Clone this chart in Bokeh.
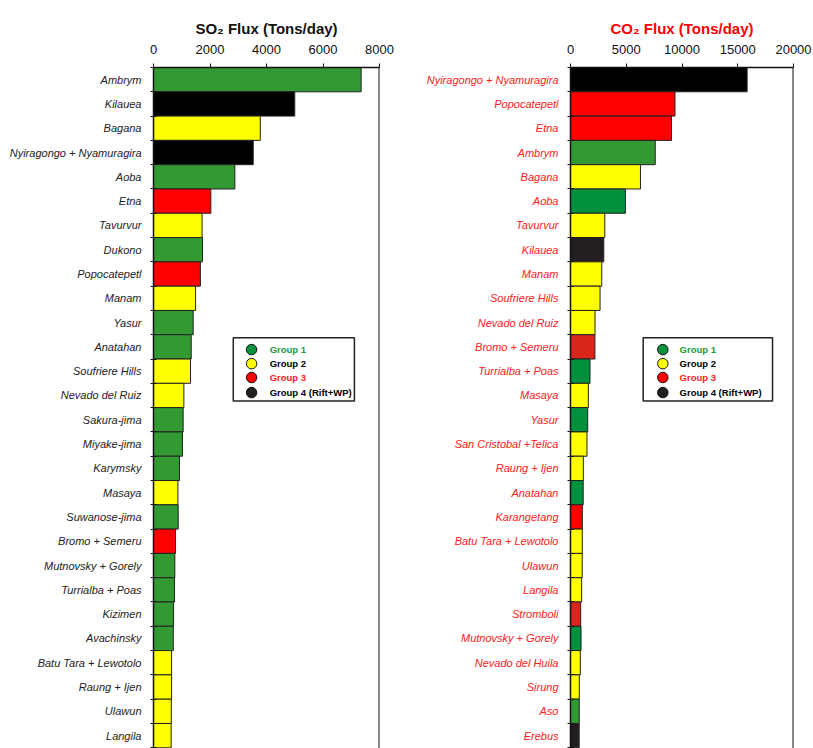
from bokeh.plotting import figure
from bokeh.layouts import row
from bokeh.models import Range1d, FixedTicker, Span, BoxAnnotation, ColumnDataSource
from bokeh.core.properties import value
from bokeh.embed import file_html
from bokeh.resources import INLINE

# ---------------- data ----------------
so2_names = ["Ambrym", "Kilauea", "Bagana", "Nyiragongo + Nyamuragira", "Aoba", "Etna",
             "Tavurvur", "Dukono", "Popocatepetl", "Manam", "Yasur", "Anatahan",
             "Soufriere Hills", "Nevado del Ruiz", "Sakura-jima", "Miyake-jima", "Karymsky",
             "Masaya", "Suwanose-jima", "Bromo + Semeru", "Mutnovsky + Gorely",
             "Turrialba + Poas", "Kizimen", "Avachinsky", "Batu Tara + Lewotolo",
             "Raung + Ijen", "Ulawun", "Langila"]
so2_vals = [7350, 5000, 3780, 3530, 2880, 2030, 1720, 1735, 1660, 1490, 1405, 1335,
            1310, 1075, 1050, 1025, 920, 865, 875, 780, 755, 745, 710, 700, 640, 640,
            630, 625]
so2_groups = ["1", "4", "2", "4", "1", "3", "2", "1", "3", "2", "1", "1", "2", "2", "1",
              "1", "1", "2", "1", "3", "1", "1", "1", "1", "2", "2", "2", "2"]

co2_names = ["Nyiragongo + Nyamuragira", "Popocatepetl", "Etna", "Ambrym", "Bagana", "Aoba",
             "Tavurvur", "Kilauea", "Manam", "Soufriere Hills", "Nevado del Ruiz",
             "Bromo + Semeru", "Turrialba + Poas", "Masaya", "Yasur", "San Cristobal +Telica",
             "Raung + Ijen", "Anatahan", "Karangetang", "Batu Tara + Lewotolo", "Ulawun",
             "Langila", "Stromboli", "Mutnovsky + Gorely", "Nevado del Huila", "Sirung",
             "Aso", "Erebus"]
co2_vals = [15840, 9370, 9060, 7600, 6275, 4925, 3075, 2985, 2805, 2650, 2200, 2190,
            1750, 1600, 1545, 1480, 1150, 1140, 1060, 1055, 1050, 1000, 915, 945, 880,
            790, 785, 780]
co2_groups = ["4", "3", "3", "1", "2", "1b", "2", "4b", "2", "2", "2", "3b", "1b", "2",
              "1b", "2", "2", "1b", "3", "2", "2", "2", "3b", "1b", "2", "2", "1", "4b"]

so2_ticks = [0, 2000, 4000, 6000, 8000]
co2_ticks = [0, 5000, 10000, 15000, 20000]

legend_labels = ["Group 1", "Group 2", "Group 3", "Group 4 (Rift+WP)"]

# ---------------- styles ----------------
PALETTE = {"1": "#339933", "1b": "#00913F", "2": "#FFFF00", "3": "#FF0000",
           "3b": "#D9261C", "4": "#000000", "4b": "#231F20"}
LEG_FILL = ["#0A8F3C", "#FFFF00", "#FF0000", "#231F20"]
LEG_TEXT = ["#1E9A3A", "#000000", "#FF2020", "#000000"]
FONT = "Liberation Sans"
Y_TOP, Y_BOT = -0.5, 27.53


def make_panel(names, vals, groups, ticks, xmax, title, title_color, label_color,
               width, border_left, border_right, leg):
    n = len(names)
    src = ColumnDataSource(dict(y=list(range(n)), v=vals,
                                c=[PALETTE[g] for g in groups]))
    p = figure(width=width, height=748, output_backend="svg", toolbar_location=None,
               x_range=Range1d(0, xmax), y_range=Range1d(Y_BOT, Y_TOP),
               x_axis_location="above", title=title,
               min_border_left=border_left, min_border_right=border_right,
               min_border_bottom=0, min_border_top=67)
    p.outline_line_color = None
    p.grid.visible = False
    p.background_fill_color = "white"
    p.border_fill_color = "white"

    p.title.align = "center"
    p.title.text_font = FONT
    p.title.text_font_size = "15px"
    p.title.text_font_style = "bold"
    p.title.text_color = title_color
    p.title.standoff = 10

    p.hbar(y="y", right="v", left=0, height=1.0, fill_color="c", line_color="#222222",
           line_width=1, source=src)

    xa = p.xaxis[0]
    xa.ticker = FixedTicker(ticks=ticks)
    xa.minor_tick_line_color = None
    xa.major_tick_in = 0
    xa.major_tick_out = 4
    xa.major_label_standoff = 10
    xa.axis_line_width = 1.5
    xa.axis_line_color = "#111111"
    xa.major_tick_line_color = "#111111"
    xa.major_label_text_font = FONT
    xa.major_label_text_font_size = "13px"
    xa.major_label_text_color = "#111111"

    ya = p.yaxis[0]
    ya.ticker = FixedTicker(ticks=list(range(n)), minor_ticks=[i - 0.5 for i in range(n + 1)])
    ya.major_label_overrides = {i: nm for i, nm in enumerate(names)}
    ya.major_tick_line_color = None
    ya.major_tick_out = 0
    ya.major_tick_in = 0
    ya.minor_tick_in = 3
    ya.minor_tick_out = 3
    ya.minor_tick_line_color = "#111111"
    ya.major_label_standoff = 9
    ya.axis_line_width = 1.5
    ya.axis_line_color = "#111111"
    ya.major_label_text_font = FONT
    ya.major_label_text_font_size = "11px"
    ya.major_label_text_font_style = "italic"
    ya.major_label_text_color = label_color

    p.add_layout(Span(location=xmax, dimension="height", line_color="#111111", line_width=2))

    # legend box drawn by hand
    bx0, bx1, cx, tx = leg
    p.add_layout(BoxAnnotation(left=bx0 * xmax, right=bx1 * xmax, top=10.62, bottom=13.23,
                               fill_color="white", fill_alpha=1.0, line_color="#222222",
                               line_alpha=1.0, line_width=1.5, level="underlay"))
    ly = [11.11, 11.69, 12.26, 12.88]
    p.scatter(x=[cx * xmax] * 4, y=ly, size=10.5, fill_color=LEG_FILL, line_color="#111111",
              line_width=1)
    p.text(x=[tx * xmax] * 4, y=ly, text=legend_labels, text_color=LEG_TEXT,
           text_font=value(FONT), text_font_style="bold", text_font_size="9.5px",
           text_baseline="middle", text_align="left")
    return p


left = make_panel(so2_names, so2_vals, so2_groups, so2_ticks, 8000,
                  "SO\u2082 Flux (Tons/day)", "#111111", "#222222",
                  400, 153, 21, (0.353, 0.889, 0.434, 0.514))
right = make_panel(co2_names, co2_vals, co2_groups, co2_ticks, 20000,
                   "CO\u2082 Flux (Tons/day)", "#FF0000", "#FF2020",
                   413, 170, 20, (0.326, 0.906, 0.414, 0.489))

layout = row(left, right)
open("out.html", "w").write(file_html(layout, INLINE))
